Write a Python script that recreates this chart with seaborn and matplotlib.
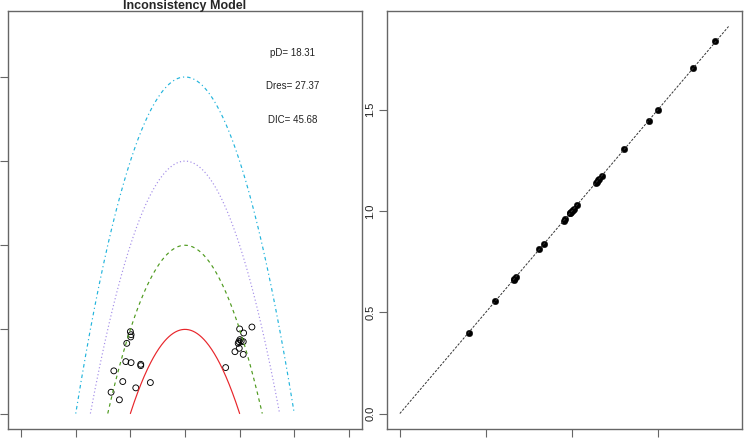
import numpy as np
import pandas as pd
import matplotlib.pyplot as plt
import seaborn as sns

# left panel: leverage vs residual deviance points
lev_x = [-1.000, -0.987, -0.993, -1.066, -1.084, -0.987, -0.810, -0.810, -1.303, -1.139,
         -0.634, -0.901, -1.353, -1.201,
         1.225, 1.000, 1.073, 1.005, 0.987, 1.029, 1.066, 0.974, 0.993, 0.914, 1.066, 0.744]
lev_y = [0.973, 0.937, 0.910, 0.834, 0.617, 0.605, 0.585, 0.569, 0.507, 0.380,
         0.368, 0.305, 0.253, 0.163,
         1.028, 1.005, 0.957, 0.878, 0.854, 0.862, 0.854, 0.834, 0.775, 0.735, 0.703, 0.546]
contour_levels = [1, 2, 3, 4]
contour_colors = ['#e8262b', '#4e9a1e', '#a48ee8', '#21b4dc']
stat_labels = ['pD= 18.31', 'Dres= 27.37', 'DIC= 45.68']
stat_y = [4.29, 3.89, 3.49]
left_xticks = [-3, -2, -1, 0, 1, 2, 3]
left_yticks = [0, 1, 2, 3, 4]

# right panel: deviance of one model against the other
dev_x = [1.835, 1.705, 1.500, 1.446, 1.304, 1.173, 1.157, 1.150, 1.144, 1.140,
         1.031, 1.013, 1.005, 1.000, 0.995, 0.990, 0.988, 0.960, 0.953,
         0.837, 0.810, 0.673, 0.665, 0.661, 0.556, 0.401]
dev_y = [1.838, 1.706, 1.499, 1.444, 1.304, 1.175, 1.158, 1.151, 1.145, 1.140,
         1.031, 1.012, 1.005, 0.999, 0.995, 0.990, 0.988, 0.960, 0.952,
         0.838, 0.810, 0.673, 0.665, 0.660, 0.557, 0.400]
dev_max = 1.911
right_ticks = [0.0, 0.5, 1.0, 1.5]
right_labels = ['0.0', '0.5', '1.0', '1.5']

sns.set_style('white')
plt.rcParams['font.family'] = ['Liberation Sans', 'DejaVu Sans']

fig = plt.figure(figsize=(7.44, 4.38), dpi=100)
ax1 = fig.add_axes([8/744, 1-429/438, 354/744, 418/438])
ax2 = fig.add_axes([386.7/744, 1-429/438, 355/744, 418/438])

# contours x^2 + y = c
dash_styles = ['-', (0, (3, 3)), (0, (1, 2)), (0, (1, 2.5, 3, 2.5))]
for c, col, ls in zip(contour_levels, contour_colors, dash_styles):
    xs = np.linspace(-np.sqrt(c), np.sqrt(c), 200)
    cdf = pd.DataFrame({'x': xs, 'y': c - xs**2})
    sns.lineplot(data=cdf, x='x', y='y', ax=ax1, color=col, lw=0.85,
                 linestyle=ls, sort=False, estimator=None)

lev = pd.DataFrame({'x': lev_x, 'y': lev_y})
sns.scatterplot(data=lev, x='x', y='y', ax=ax1, marker='o', s=18,
                facecolor='none', edgecolor='black', linewidth=0.65)
for lab, yy in zip(stat_labels, stat_y):
    ax1.text(1.97, yy, lab, ha='center', va='center', fontsize=7, color='#222222')

ax1.set_xlim(-3.24, 3.24)
ax1.set_ylim(-0.184, 4.784)
ax1.set_xticks(left_xticks)
ax1.set_xticklabels([''] * len(left_xticks))
ax1.set_yticks(left_yticks)
ax1.set_yticklabels([''] * len(left_yticks))
ax1.set_xlabel('')
ax1.set_ylabel('')
fig.text(185/744, 1-6/438, 'Inconsistency Model', ha='center', va='center',
         fontsize=9, fontweight='bold')

# right panel
ident = pd.DataFrame({'x': [0, dev_max], 'y': [0, dev_max]})
sns.lineplot(data=ident, x='x', y='y', ax=ax2, color='#333333', lw=0.7,
             linestyle=(0, (2.5, 1.5)))
dev = pd.DataFrame({'x': dev_x, 'y': dev_y})
sns.scatterplot(data=dev, x='x', y='y', ax=ax2, marker='o', s=22,
                color='black', edgecolor='black', linewidth=0.3)
pad = 0.04 * dev_max
ax2.set_xlim(-pad, dev_max + pad)
ax2.set_ylim(-pad, dev_max + pad)
ax2.set_xticks(right_ticks)
ax2.set_xticklabels([''] * len(right_ticks))
ax2.set_yticks(right_ticks)
ax2.set_yticklabels(right_labels, rotation=90, va='center', fontsize=8)
ax2.set_xlabel('')
ax2.set_ylabel('')

for ax in (ax1, ax2):
    for sp in ax.spines.values():
        sp.set_color('#666666')
        sp.set_linewidth(1.0)
    ax.tick_params(axis='both', direction='out', length=5.5, width=0.8,
                   color='#666666', labelcolor='#222222', pad=2.5,
                   bottom=True, left=True)
    ax.grid(False)

fig.savefig('out.png', dpi=100)
